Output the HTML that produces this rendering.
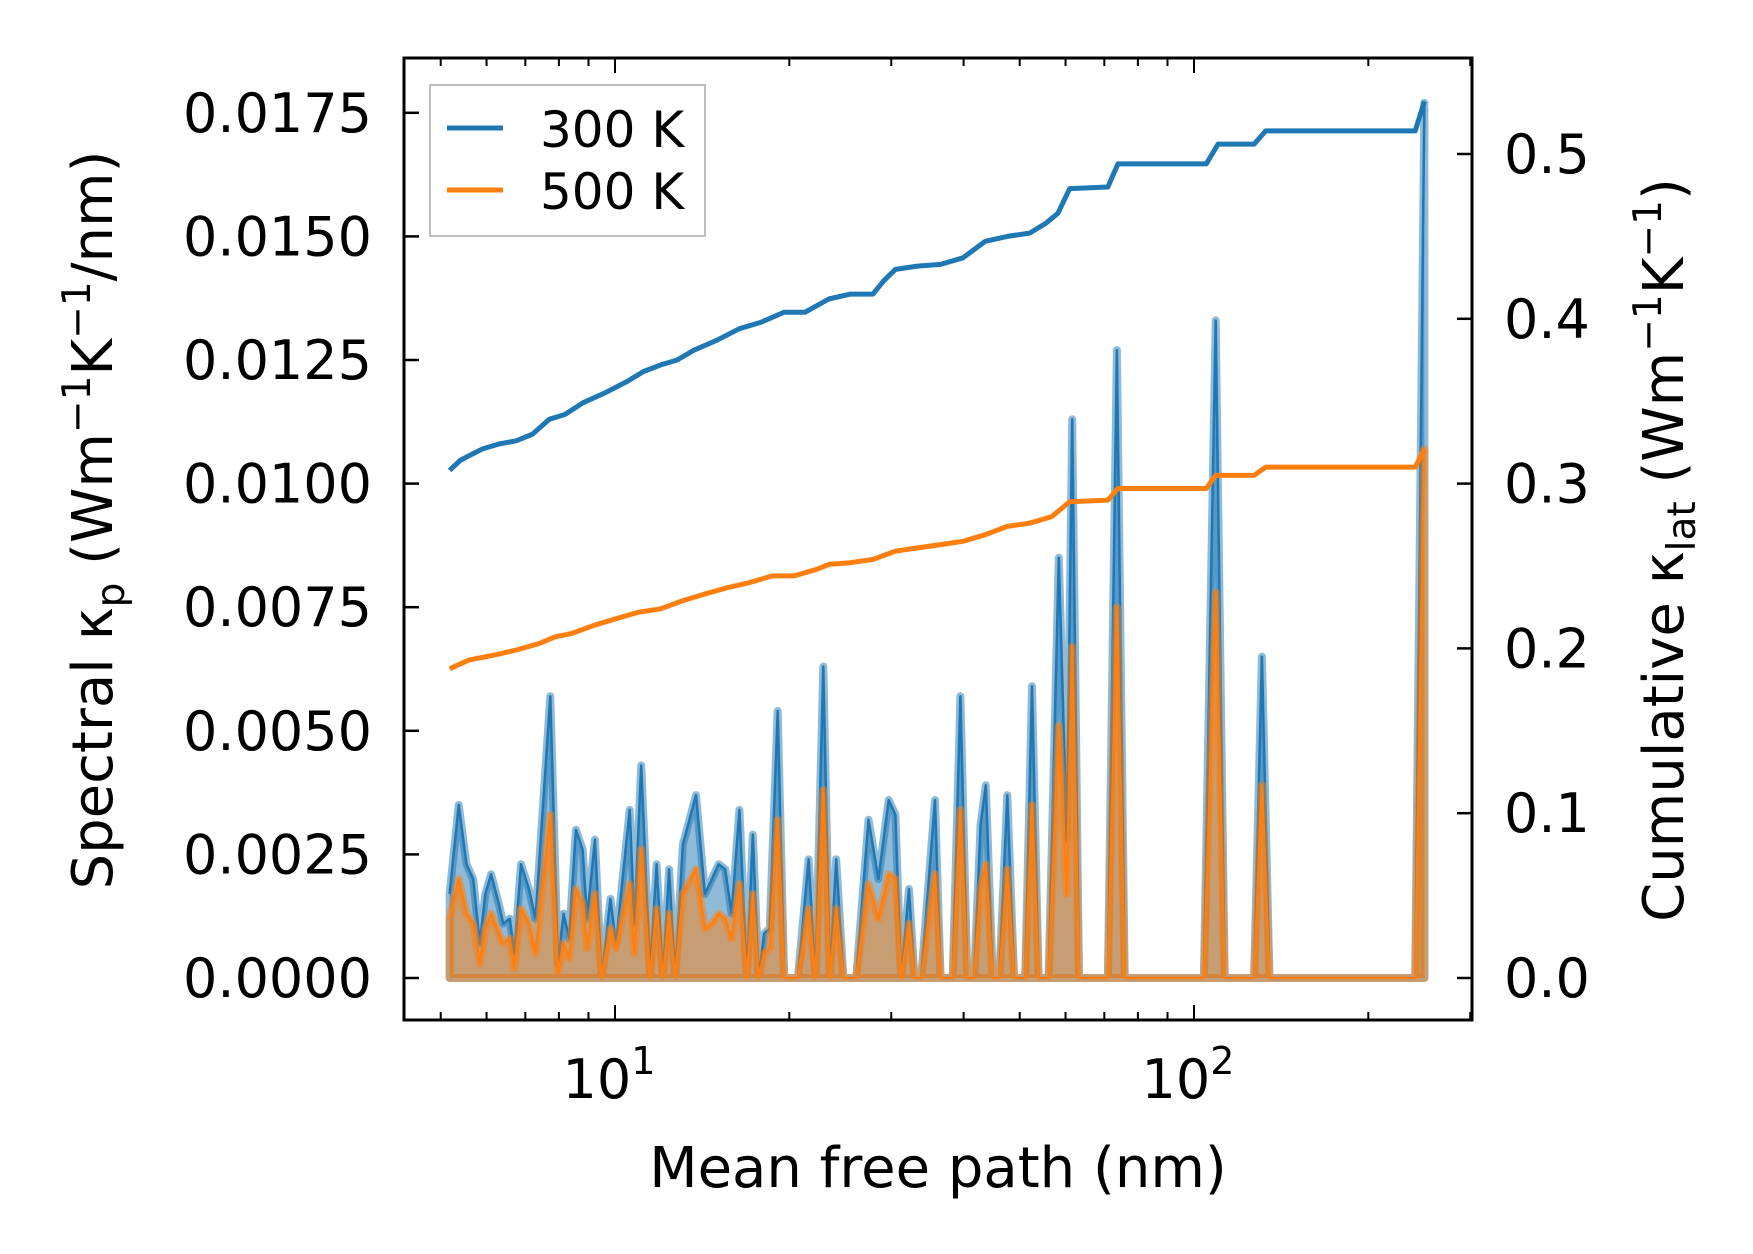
<!DOCTYPE html>
<html><head><meta charset="utf-8"><style>
html,body{margin:0;padding:0;background:#fff}
svg{display:block}
text{font-family:"DejaVu Sans","Liberation Sans",sans-serif;fill:#000}
</style></head><body>
<svg id="chart" width="1753" height="1254" viewBox="0 0 1753 1254" xmlns="http://www.w3.org/2000/svg">
<g id="spec"></g>
<g id="cum"></g>
<g id="axes"></g>
</svg>
<script>
const mfp = [5.18,5.37,5.54,5.69,5.84,5.97,6.11,6.30,6.41,6.58,6.70,6.88,7.10,7.29,7.73,7.97,8.15,8.33,8.56,8.79,8.95,9.23,9.48,9.82,10.04,10.6,10.8,11.1,11.5,11.8,12.1,12.4,12.7,13.1,13.8,14.3,14.7,15.1,15.5,15.9,16.4,16.9,17.3,17.7,18.1,18.5,19.1,19.6,20.7,21.6,22.2,22.9,23.5,24.1,24.8,26.1,27.4,28.5,29.7,30.5,31.2,32.2,32.9,33.8,35.7,36.5,38.3,39.5,40.6,41.7,42.8,43.7,44.9,46.1,47.6,48.9,51.1,52.5,53.9,56.1,58.4,60.3,61.6,63.3,71.0,73.6,75.9,104,109,113,127,131,135,241,250];
const spec300 = [0.0017,0.0035,0.0023,0.0020,0.0007,0.0017,0.0021,0.0015,0.0011,0.0012,0.0005,0.0023,0.0018,0.0012,0.0057,0.0003,0.0013,0.0008,0.0030,0.0026,0.0012,0.0028,0,0.0016,0.0007,0.0034,0.0011,0.0043,0.0001,0.0023,0,0.0022,0,0.0027,0.0037,0.0017,0.0020,0.0023,0.0022,0.0013,0.0034,0,0.0029,0,0.0009,0.0010,0.0054,0,0,0.0024,0,0.0063,0,0.0024,0,0,0.0032,0.0020,0.0036,0.0033,0,0.0018,0,0,0.0036,0,0,0.0057,0,0,0.0031,0.0039,0,0,0.0037,0,0,0.0059,0,0,0.0085,0.0028,0.0113,0,0,0.0127,0,0,0.0133,0,0,0.0065,0,0,0.0177];
const spec500 = [0.0012,0.0020,0.0013,0.0011,0.0003,0.0010,0.0013,0.0009,0.0007,0.0008,0.0002,0.0014,0.0011,0.0005,0.0033,0.0001,0.0007,0.0004,0.0018,0.0015,0.0006,0.0017,0,0.0010,0.0006,0.0019,0.0005,0.0026,0,0.0014,0,0.0013,0,0.0017,0.0022,0.0010,0.0011,0.0013,0.0012,0.0008,0.0019,0,0.0017,0,0.0005,0.0006,0.0032,0,0,0.0014,0,0.0038,0,0.0014,0,0,0.0019,0.0012,0.0021,0.0020,0,0.0011,0,0,0.0021,0,0,0.0034,0,0,0.0018,0.0023,0,0,0.0022,0,0,0.0035,0,0,0.0051,0.0017,0.0067,0,0,0.0075,0,0,0.0078,0,0,0.0039,0,0,0.0107];
const cumMfp300 = [5.18,5.4,5.6,5.9,6.3,6.75,7.2,7.7,8.2,8.8,9.6,10.5,11.2,12.0,12.8,13.7,15.0,16.4,17.9,19.6,21.3,23.4,25.5,27.9,29.1,30.5,33.3,36.5,39.9,43.6,47.6,52.0,55.5,58.2,61.0,71.0,73.9,105,110,127,133,241,250];
const cum300 = [0.308,0.314,0.317,0.321,0.324,0.326,0.330,0.339,0.342,0.349,0.355,0.362,0.368,0.372,0.375,0.381,0.387,0.394,0.398,0.404,0.404,0.412,0.415,0.415,0.423,0.430,0.432,0.433,0.437,0.447,0.450,0.452,0.458,0.464,0.479,0.480,0.494,0.494,0.506,0.506,0.514,0.514,0.532];
const cumMfp500 = [5.18,5.6,6.2,6.75,7.4,7.87,8.4,9.2,10.04,11.0,12.0,13.1,14.3,15.7,17.1,18.7,20.4,22.3,23.4,25.5,27.9,30.5,33.3,36.5,39.9,43.6,47.6,52.0,56.8,61.0,71.0,73.9,105,109,127,133,241,250];
const cum500 = [0.1876,0.193,0.196,0.199,0.203,0.207,0.209,0.214,0.218,0.222,0.224,0.229,0.233,0.237,0.240,0.244,0.244,0.248,0.251,0.252,0.254,0.259,0.261,0.263,0.265,0.269,0.274,0.276,0.280,0.289,0.290,0.297,0.297,0.305,0.305,0.310,0.310,0.321];
const yLeftTicks = [0,0.0025,0.005,0.0075,0.01,0.0125,0.015,0.0175];
const yLeftLabels = ["0.0000","0.0025","0.0050","0.0075","0.0100","0.0125","0.0150","0.0175"];
const yRightTicks = [0,0.1,0.2,0.3,0.4,0.5];
const yRightLabels = ["0.0","0.1","0.2","0.3","0.4","0.5"];

const L=404,R=1472,T=58,B=1020;
const xS = m => 615 + 579*Math.log10(m/10);
const yL = v => 978 - v/0.0025*123.6;
const yR = v => 978 - v*1648;
const NS="http://www.w3.org/2000/svg";
function mk(tag, parent, attrs){const e=document.createElementNS(NS,tag);for(const k in attrs)e.setAttribute(k,attrs[k]);parent.appendChild(e);return e;}
const spec=document.getElementById('spec'), cum=document.getElementById('cum'), axes=document.getElementById('axes');

function specSeries(vals,col,fill,name){
  const pts=mfp.map((m,i)=>xS(m).toFixed(1)+','+yL(vals[i]).toFixed(1));
  const area=mk('polygon',spec,{points:pts.join(' ')+' '+xS(mfp[mfp.length-1]).toFixed(1)+','+yL(0)+' '+xS(mfp[0]).toFixed(1)+','+yL(0),fill:fill,stroke:fill,'stroke-width':8,'stroke-linejoin':'round'});
  
  
  const ln=mk('polyline',spec,{points:pts.join(' '),fill:'none',stroke:col,'stroke-width':2.5,'stroke-linejoin':'round'});
  
  
}
specSeries(spec300,'#1f77b4','rgba(31,119,180,0.5)','spectral-300k');
specSeries(spec500,'#ff7f0e','rgba(255,127,14,0.5)','spectral-500k');

function cumLine(ms,vals,col,name){
  const pts=ms.map((m,i)=>xS(m).toFixed(1)+','+yR(vals[i]).toFixed(1)).join(' ');
  const ln=mk('polyline',cum,{points:pts,fill:'none',stroke:col,'stroke-width':5,'stroke-linejoin':'round'});
  
  
}
cumLine(cumMfp300,cum300,'#1f77b4','cumulative-300k-line');
cumLine(cumMfp500,cum500,'#ff7f0e','cumulative-500k-line');

const fr=mk('rect',axes,{x:L,y:T,width:R-L,height:B-T,fill:'none',stroke:'#000','stroke-width':3});


yLeftTicks.forEach((v,i)=>{
  const y=yL(v);
  mk('line',axes,{x1:L,x2:L+15,y1:y,y2:y,stroke:'#000','stroke-width':2.5});
  const t=mk('text',axes,{x:L-32,y:y+19,'text-anchor':'end','font-size':54});
  t.textContent=yLeftLabels[i];
  
  
});
yRightTicks.forEach((v,i)=>{
  const y=yR(v);
  mk('line',axes,{x1:R-15,x2:R,y1:y,y2:y,stroke:'#000','stroke-width':2.5});
  const t=mk('text',axes,{x:R+32,y:y+19,'text-anchor':'start','font-size':54});
  t.textContent=yRightLabels[i];
  
  
});
for(let d=0;d<3;d++){for(let k=1;k<10;k++){const m=k*Math.pow(10,d);const x=xS(m);if(x<L||x>R)continue;const len=k===1?15:8;
  mk('line',axes,{x1:x,x2:x,y1:B-len,y2:B,stroke:'#000','stroke-width':2});
  mk('line',axes,{x1:x,x2:x,y1:T,y2:T+len,stroke:'#000','stroke-width':2});}}
[[10,'1'],[100,'2']].forEach(([m,e])=>{
  const t=mk('text',axes,{x:xS(m)-6,y:1098,'text-anchor':'middle','font-size':54});
  t.innerHTML='10<tspan dy="-24" font-size="38">'+e+'</tspan>';
  
  
});
</script>
<svg style="position:absolute;left:0;top:0" width="1753" height="1254" xmlns="http://www.w3.org/2000/svg">
<text x="938" y="1187" text-anchor="middle" font-size="56" style="font-family:'DejaVu Sans','Liberation Sans',sans-serif">Mean free path (nm)</text>
<text transform="translate(112,520) rotate(-90)" text-anchor="middle" font-size="56" style="font-family:'DejaVu Sans','Liberation Sans',sans-serif">Spectral κ<tspan font-size="39" dy="12">p</tspan><tspan dy="-12"> (Wm</tspan><tspan font-size="39" dy="-22">−1</tspan><tspan dy="22">K</tspan><tspan font-size="39" dy="-22">−1</tspan><tspan dy="22">/nm)</tspan></text>
<text transform="translate(1683,550) rotate(-90)" text-anchor="middle" font-size="56" style="font-family:'DejaVu Sans','Liberation Sans',sans-serif">Cumulative κ<tspan font-size="39" dy="12">lat</tspan><tspan dy="-12"> (Wm</tspan><tspan font-size="39" dy="-22">−1</tspan><tspan dy="22">K</tspan><tspan font-size="39" dy="-22">−1</tspan><tspan dy="22">)</tspan></text>
<g>
<rect x="430" y="85" width="275" height="151" fill="#fff" fill-opacity="0.8" stroke="#aaa" stroke-width="1.5"/>
<line x1="447" x2="503" y1="128" y2="128" stroke="#1f77b4" stroke-width="5"/>
<text x="540" y="147" font-size="50" style="font-family:'DejaVu Sans','Liberation Sans',sans-serif">300 K</text>
<line x1="447" x2="503" y1="190" y2="190" stroke="#ff7f0e" stroke-width="5"/>
<text x="540" y="209" font-size="50" style="font-family:'DejaVu Sans','Liberation Sans',sans-serif">500 K</text>
</g>
</svg>
</body></html>
